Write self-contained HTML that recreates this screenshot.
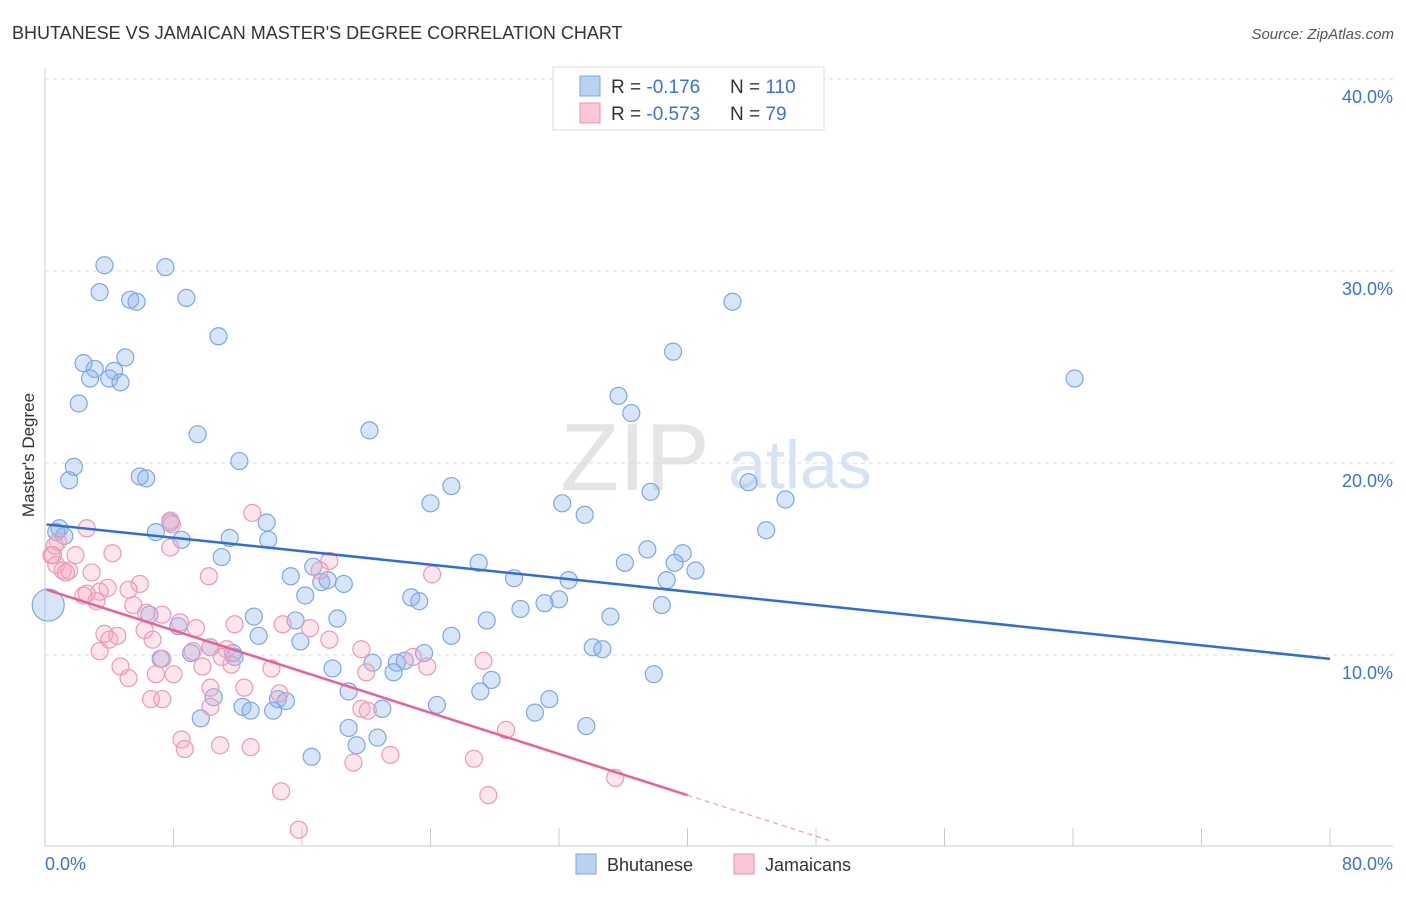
<!DOCTYPE html>
<html><head><meta charset="utf-8"><style>
body{margin:0;background:#fff;font-family:"Liberation Sans",sans-serif;}
svg text{font-family:"Liberation Sans",sans-serif;}
</style></head><body>
<svg id="chart" width="1406" height="892" xmlns="http://www.w3.org/2000/svg">
<text x="12" y="39" font-size="18" fill="#333">BHUTANESE VS JAMAICAN MASTER'S DEGREE CORRELATION CHART</text>
<text x="1394" y="39" font-size="15" fill="#555" font-style="italic" text-anchor="end">Source: ZipAtlas.com</text>
<text x="635" y="490" font-size="96" fill="#e4e4e4" font-family="Liberation Serif" text-anchor="middle">ZIP</text>
<text x="800" y="488" font-size="68" fill="#d6e3f5" text-anchor="middle">atlas</text>
<g id="grid"></g><g id="axes"></g><g id="pts"></g><g id="lines"></g>
<text transform="translate(34,455) rotate(-90)" font-size="17" fill="#333" text-anchor="middle">Master's Degree</text>
<g>
<rect x="553" y="67" width="271" height="63" fill="#fff" stroke="#ddd"/>
<rect x="580" y="76" width="20" height="20" fill="#b9d2f3" stroke="#7fa8e0"/>
<rect x="580" y="103" width="20" height="20" fill="#f9c7d7" stroke="#e892b0"/>
<text x="611" y="93" font-size="19" fill="#333">R = <tspan fill="#3a73d0"> -0.176</tspan><tspan x="730">N = </tspan><tspan fill="#3a73d0">110</tspan></text>
<text x="611" y="120" font-size="19" fill="#333">R = <tspan fill="#3a73d0">-0.573</tspan><tspan x="730">N = </tspan><tspan fill="#3a73d0"> 79</tspan></text>
</g>
<g>
<rect x="576" y="854" width="20" height="20" fill="#b9d2f3" stroke="#7fa8e0"/>
<text x="607" y="871" font-size="18" fill="#333">Bhutanese</text>
<rect x="734" y="854" width="20" height="20" fill="#f9c7d7" stroke="#e892b0"/>
<text x="765" y="871" font-size="18" fill="#333">Jamaicans</text>
</g>
</svg>
<script>
const blueX=[3.7,7.5,3.4,5.3,5.7,8.8,10.8,42.8,5.0,2.4,3.1,4.3,2.8,4.0,4.7,2.1,39.1,64.1,35.7,36.5,9.5,20.2,1.8,1.5,5.9,6.3,12.1,25.3,43.8,37.7,46.1,24.0,32.2,33.6,13.8,0.9,0.7,1.2,7.8,6.9,11.5,8.5,13.9,44.9,37.5,39.7,36.1,39.2,11.0,27.0,40.5,16.7,15.3,29.2,32.6,38.7,18.6,17.2,17.6,16.2,22.8,23.3,32.0,29.6,31.1,38.4,6.5,35.2,18.2,13.0,15.6,27.5,8.3,13.3,25.3,15.9,10.3,34.1,34.7,9.1,7.2,11.8,11.7,23.6,17.9,20.4,21.9,22.4,21.7,37.9,27.8,18.9,27.1,12.3,12.8,14.5,15.0,10.5,24.4,31.4,30.5,21.0,9.7,14.2,18.9,33.7,20.7,19.4,16.6,0.2];
const blueY=[30.3,30.2,28.9,28.5,28.4,28.6,26.6,28.4,25.5,25.2,24.9,24.8,24.4,24.4,24.2,23.1,25.8,24.4,23.5,22.6,21.5,21.7,19.8,19.1,19.3,19.2,20.1,18.8,19.0,18.5,18.1,17.9,17.9,17.3,16.9,16.6,16.4,16.2,16.9,16.4,16.1,16.0,16.0,16.5,15.5,15.3,14.8,14.8,15.1,14.8,14.4,14.6,14.1,14.0,13.9,13.9,13.7,13.8,13.9,13.1,13.0,12.8,12.9,12.4,12.7,12.6,12.1,12.0,11.9,12.0,11.8,11.8,11.5,11.0,11.0,10.7,10.4,10.4,10.3,10.1,9.8,9.9,10.1,10.1,9.3,9.6,9.6,9.7,9.1,9.0,8.7,8.1,8.1,7.3,7.1,7.7,7.6,7.8,7.4,7.7,7.0,7.2,6.7,7.1,6.2,6.3,5.7,5.3,4.7,12.6];
const pinkX=[0.8,0.4,0.7,1.1,1.9,2.6,4.2,7.8,7.9,12.9,17.7,1.5,1.3,2.9,0.6,3.9,5.9,3.4,5.2,2.6,2.4,3.2,5.5,7.3,8.4,6.3,4.0,4.5,3.7,11.8,6.2,9.4,14.8,16.5,17.7,10.3,6.7,9.2,11.3,11.0,11.6,19.7,22.9,3.4,4.7,7.3,9.8,14.1,20.0,23.8,27.3,5.2,6.9,8.0,10.3,12.4,14.6,6.6,7.3,10.3,19.7,20.1,28.7,8.5,8.7,10.9,12.8,19.2,21.5,26.7,35.5,14.7,27.6,15.8,24.1,10.2,17.1,7.8,0.5];
const pinkY=[15.9,15.2,14.7,14.4,15.2,16.6,15.3,17.0,16.8,17.4,14.9,14.4,14.3,14.3,15.7,13.5,13.7,13.3,13.4,13.2,13.1,12.8,12.6,12.1,11.7,12.2,10.8,11.0,11.1,11.6,11.3,11.4,11.6,11.4,10.8,10.4,10.8,10.2,10.3,9.9,9.5,10.3,9.9,10.2,9.4,9.8,9.4,9.3,9.1,9.4,9.7,8.8,9.0,9.0,8.3,8.3,8.0,7.7,7.7,7.3,7.2,7.1,6.1,5.6,5.1,5.3,5.2,4.4,4.8,4.6,3.6,2.9,2.7,0.9,14.2,14.1,14.4,15.6,15.2];
const blueTrend=[16.8,9.8];
const pinkTrend=[13.4,2.7];
const yTicks=[10,20,30,40];
const yTickLabels=["10.0%","20.0%","30.0%","40.0%"];
const NS="http://www.w3.org/2000/svg";
const sx=v=>45+v/80*1285, sy=v=>847-v*19.2;
function mk(t,a,p){const e=document.createElementNS(NS,t);for(const k in a)e.setAttribute(k,a[k]);document.getElementById(p).appendChild(e);return e;}
yTicks.forEach((t,i)=>{
 const l=mk('line',{x1:45,x2:1393,y1:sy(t),y2:sy(t),stroke:'#ddd','stroke-dasharray':'4,4'},'grid');
 
 
 const tx=mk('text',{x:1393,y:sy(t)+24,'font-size':18,fill:'#3a73d0','text-anchor':'end'},'grid');
 tx.textContent=yTickLabels[i];
 
 
});
mk('line',{x1:45,x2:45,y1:68,y2:846,stroke:'#ccc'},'axes');
mk('line',{x1:45,x2:1393,y1:846,y2:846,stroke:'#ccc'},'axes');
for(let i=0;i<=10;i++){const t=mk('line',{x1:sx(i*8),x2:sx(i*8),y1:828,y2:846,stroke:'#ccc'},'axes');}
const x0=mk('text',{x:45,y:870,'font-size':18,fill:'#3a73d0'},'axes');x0.textContent='0.0%';


const x1=mk('text',{x:1393,y:870,'font-size':18,fill:'#3a73d0','text-anchor':'end'},'axes');x1.textContent='80.0%';


blueX.forEach((x,i)=>{
 const big=i===blueX.length-1;
 const c=mk('circle',{cx:sx(x),cy:sy(blueY[i]),r:big?16:8.5,fill:'rgba(140,180,235,0.35)',stroke:'#7fa8e0','stroke-width':1.2},'pts');
 
 
});
pinkX.forEach((x,i)=>{
 const c=mk('circle',{cx:sx(x),cy:sy(pinkY[i]),r:8.5,fill:'rgba(245,170,195,0.3)',stroke:'#ec9ab8','stroke-width':1.2},'pts');
 
 
});
const bl=mk('line',{x1:sx(0.1),y1:sy(blueTrend[0]),x2:sx(80),y2:sy(blueTrend[1]),stroke:'#2d6fd6','stroke-width':2.5},'lines');


const sl=(pinkTrend[1]-pinkTrend[0])/40;
const pl=mk('line',{x1:sx(0.1),y1:sy(pinkTrend[0]),x2:sx(40),y2:sy(pinkTrend[1]),stroke:'#e8609a','stroke-width':2.5},'lines');


const pd=mk('line',{x1:sx(40),y1:sy(pinkTrend[1]),x2:sx(49),y2:sy(pinkTrend[0]+sl*49),stroke:'#eaa0bd','stroke-width':1.2,'stroke-dasharray':'5,4'},'lines');


</script>
</body></html>
